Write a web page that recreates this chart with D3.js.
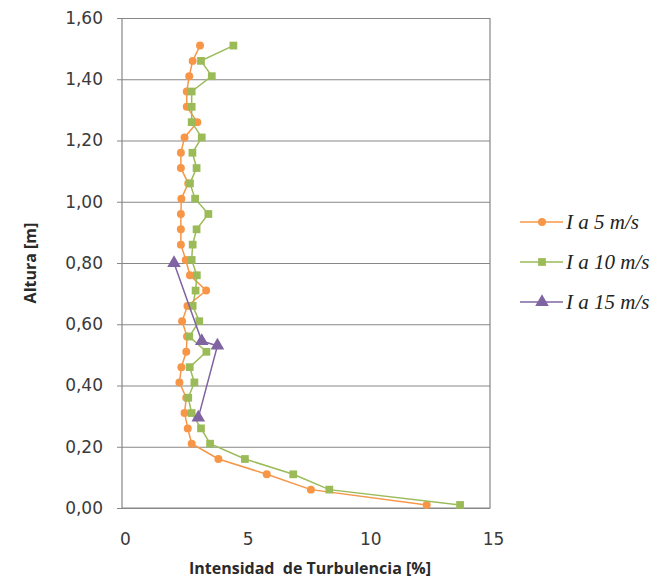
<!DOCTYPE html>
<html>
<head>
<meta charset="utf-8">
<script src="https://cdn.jsdelivr.net/npm/d3@7/dist/d3.min.js"></script>
<style>
  body { margin: 0; background: #ffffff; }
  svg { display: block; }
</style>
</head>
<body>
<svg id="chart" width="662" height="579"></svg>
<script>
// Measurement heights (m) for the 5 and 10 m/s profiles
const heights = [0.01, 0.06, 0.11, 0.16, 0.21, 0.26, 0.31, 0.36, 0.41, 0.46,
                 0.51, 0.56, 0.61, 0.66, 0.71, 0.76, 0.81, 0.86, 0.91, 0.96,
                 1.01, 1.06, 1.11, 1.16, 1.21, 1.26, 1.31, 1.36, 1.41, 1.46, 1.51];

// Turbulence intensity (%) at 5 m/s
const i5 = [12.42, 7.70, 5.90, 3.93, 2.84, 2.68, 2.55, 2.62, 2.34, 2.42,
            2.62, 2.65, 2.45, 2.67, 3.43, 2.77, 2.60, 2.40, 2.40, 2.40,
            2.42, 2.70, 2.40, 2.40, 2.55, 3.07, 2.64, 2.64, 2.74, 2.88, 3.18];

// Turbulence intensity (%) at 10 m/s
const i10 = [13.78, 8.45, 6.98, 5.01, 3.59, 3.22, 2.84, 2.70, 2.95, 2.76,
             3.44, 2.74, 3.15, 2.88, 3.00, 3.05, 2.84, 2.88, 3.04, 3.52,
             2.98, 2.77, 3.04, 2.87, 3.25, 2.84, 2.84, 2.84, 3.66, 3.22, 4.54];

// 15 m/s profile: only four measurements
const heights15 = [0.80, 0.545, 0.53, 0.295];
const i15 = [2.12, 3.25, 3.89, 3.11];

const seriesNames = ["I a 5 m/s", "I a 10 m/s", "I a 15 m/s"];
const xTicks = [0, 5, 10, 15];
const yTicks = [0, 0.2, 0.4, 0.6, 0.8, 1.0, 1.2, 1.4, 1.6];
const xTitle = "Intensidad  de Turbulencia [%]";
const yTitle = "Altura [m]";

const colors = ["#F79646", "#9BBB59", "#8064A2"];
const symbols = [d3.symbolCircle, d3.symbolSquare, d3.symbolTriangle];
const symbolSizes = [50, 60, 80];

const svg = d3.select("#chart");
const plot = { left: 122, right: 490, top: 18, bottom: 508 };

const x = d3.scaleLinear().domain([0, 15]).range([plot.left, plot.right]);
const y = d3.scaleLinear().domain([0, 1.6]).range([plot.bottom, plot.top]);

const es = d3.formatLocale({ decimal: ",", thousands: ".", grouping: [3], currency: ["", "€"] });
const fmtY = es.format(".2f");

// Horizontal gridlines
svg.append("g")
  .attr("transform", `translate(${plot.left},0)`)
  .call(d3.axisLeft(y).tickValues(yTicks).tickSize(-(plot.right - plot.left)).tickFormat(""))
  .call(g => g.select(".domain").remove())
  .call(g => g.selectAll("line").attr("stroke", "#878787").attr("stroke-width", 1.2));

// Plot frame (left, right, bottom)
svg.append("path")
  .attr("d", `M${plot.left},${plot.top}V${plot.bottom}H${plot.right}V${plot.top}`)
  .attr("fill", "none")
  .attr("stroke", "#878787")
  .attr("stroke-width", 1.2);

// Y axis ticks and labels
svg.append("g")
  .attr("transform", `translate(${plot.left},0)`)
  .call(d3.axisLeft(y).tickValues(yTicks).tickSize(5).tickPadding(14).tickFormat(fmtY))
  .call(g => g.select(".domain").remove())
  .call(g => g.selectAll("line").attr("stroke", "#878787"))
  .call(g => g.selectAll("text")
    .attr("font-family", "DejaVu Sans, Verdana, sans-serif")
    .attr("font-size", 17)
    .attr("fill", "#3a3a3a"));

// X axis labels
svg.append("g")
  .attr("transform", `translate(3,${plot.bottom})`)
  .call(d3.axisBottom(x).tickValues(xTicks).tickSize(0).tickPadding(25).tickFormat(d3.format("d")))
  .call(g => g.select(".domain").remove())
  .call(g => g.selectAll("text")
    .attr("font-family", "DejaVu Sans, Verdana, sans-serif")
    .attr("font-size", 17)
    .attr("fill", "#3a3a3a"));

// Axis titles
svg.append("text")
  .attr("x", 310).attr("y", 574)
  .attr("text-anchor", "middle")
  .attr("font-family", "Open Sans, sans-serif")
  .attr("font-weight", 700)
  .attr("font-size", 16)
  .attr("fill", "#2a2a2a")
  .attr("xml:space", "preserve")
  .text(xTitle);

svg.append("text")
  .attr("transform", `translate(36,${(plot.top + plot.bottom) / 2}) rotate(-90)`)
  .attr("text-anchor", "middle")
  .attr("font-family", "Open Sans, sans-serif")
  .attr("font-weight", 700)
  .attr("font-size", 16)
  .attr("fill", "#2a2a2a")
  .text(yTitle);

// Series
const series = [
  { name: seriesNames[0], pts: heights.map((h, i) => [i5[i], h]) },
  { name: seriesNames[1], pts: heights.map((h, i) => [i10[i], h]) },
  { name: seriesNames[2], pts: heights15.map((h, i) => [i15[i], h]) }
];

const line = d3.line().x(d => x(d[0])).y(d => y(d[1]));

series.forEach((s, k) => {
  const g = svg.append("g");
  g.append("path")
    .attr("d", line(s.pts))
    .attr("fill", "none")
    .attr("stroke", colors[k])
    .attr("stroke-width", 1.5);
  g.selectAll("path.mk")
    .data(s.pts)
    .join("path")
    .attr("class", "mk")
    .attr("transform", d => `translate(${x(d[0])},${y(d[1])})`)
    .attr("d", d3.symbol().type(symbols[k]).size(symbolSizes[k]))
    .attr("fill", colors[k]);
});

// Legend
const legendRows = [222, 262, 302];
const legend = svg.append("g");
series.forEach((s, k) => {
  const ly = legendRows[k];
  legend.append("line")
    .attr("x1", 520).attr("x2", 563)
    .attr("y1", ly).attr("y2", ly)
    .attr("stroke", colors[k]).attr("stroke-width", 1.5);
  legend.append("path")
    .attr("transform", `translate(542,${ly})`)
    .attr("d", d3.symbol().type(symbols[k]).size(symbolSizes[k]))
    .attr("fill", colors[k]);
  legend.append("text")
    .attr("x", 566).attr("y", ly + 7)
    .attr("font-family", "Liberation Serif, Times New Roman, serif")
    .attr("font-style", "italic")
    .attr("font-size", 21)
    .attr("fill", "#222")
    .text(s.name);
});
</script>
</body>
</html>
